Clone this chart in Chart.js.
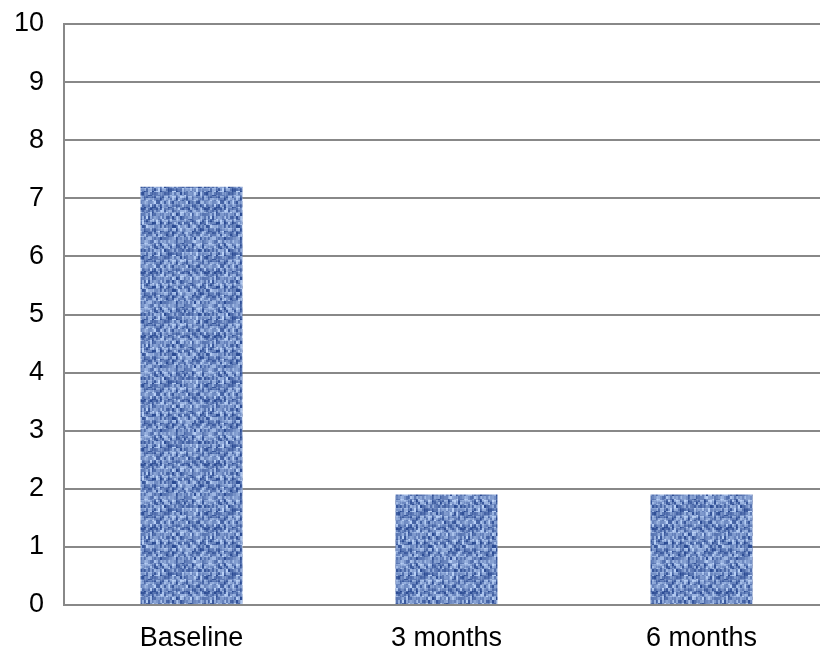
<!DOCTYPE html>
<html>
<head>
<meta charset="utf-8">
<script src="https://cdn.jsdelivr.net/npm/chart.js@4"></script>
<style>
  html, body { margin: 0; padding: 0; background: #fff; overflow: hidden; }
  #wrap { width: 830px; height: 649px; }
</style>
</head>
<body>
<div id="wrap"><canvas id="chart" width="830" height="649"></canvas></div>
<script>
var categories = ['Baseline', '3 months', '6 months'];
var values = [7.2, 1.9, 1.9];
var yTicks = [0, 1, 2, 3, 4, 5, 6, 7, 8, 9, 10];

// woven denim-like fill for the bars
function makeWeave() {
    var size = 64;
    var raw = document.createElement('canvas');
    raw.width = size; raw.height = size;
    var g = raw.getContext('2d');
    var img = g.createImageData(size, size);
    function hash(x, y) {
        var h = (x * 374761393 + y * 668265263 + 1013) | 0;
        h = Math.imul(h ^ (h >>> 13), 1274126177);
        return ((h ^ (h >>> 16)) >>> 0) / 4294967295;
    }
    for (var y = 0; y < size; y++) {
        for (var x = 0; x < size; x++) {
            var cx = Math.floor(x / 4), cy = Math.floor(y / 4);
            var over = ((cx + cy) % 2) === 0;
            var t = over ? 0.64 : 0.4;
            t += (hash(Math.floor(x / 2), Math.floor(y / 3)) - 0.5) * 0.75;
            if (x % 8 === 0) t -= 0.15;
            if (y % 8 === 4) t += 0.12;
            t = Math.max(0, Math.min(1, t));
            var i = (y * size + x) * 4;
            img.data[i] = 40 + t * (185 - 40);
            img.data[i + 1] = 72 + t * (208 - 72);
            img.data[i + 2] = 145 + t * (245 - 145);
            img.data[i + 3] = 255;
        }
    }
    g.putImageData(img, 0, 0);
    // soften the threads a little, wrapping at the tile edges
    var tile = document.createElement('canvas');
    tile.width = size; tile.height = size;
    var tg = tile.getContext('2d');
    tg.filter = 'blur(0.7px)';
    for (var dx = -1; dx <= 1; dx++) {
        for (var dy = -1; dy <= 1; dy++) {
            tg.drawImage(raw, dx * size, dy * size);
        }
    }
    return document.getElementById('chart').getContext('2d').createPattern(tile, 'repeat');
}

var gridColor = '#888888';
var labelFont = { family: 'Liberation Sans, Arial, sans-serif', size: 27 };

var config = {
    type: 'bar',
    data: {
        labels: categories,
        datasets: [{
            data: values,
            backgroundColor: makeWeave(),
            borderWidth: 0,
            barPercentage: 0.4,
            categoryPercentage: 1.0
        }]
    },
    options: {
        responsive: false,
        animation: false,
        layout: { padding: { top: 24, left: 0, right: 1, bottom: 0 } },
        plugins: {
            legend: { display: false },
            tooltip: { enabled: false }
        },
        scales: {
            x: {
                grid: { display: false, drawTicks: false },
                border: { display: true, color: gridColor, width: 2 },
                ticks: { color: '#000', padding: 17, font: labelFont },
                afterFit: function (axis) { axis.height = 44; }
            },
            y: {
                min: 0,
                max: 10,
                afterBuildTicks: function (axis) {
                    axis.ticks = yTicks.map(function (v) { return { value: v }; });
                },
                grid: { color: gridColor, lineWidth: 2, drawTicks: false },
                border: { display: true, color: gridColor, width: 2 },
                ticks: { color: '#000', padding: 20, font: labelFont },
                afterFit: function (axis) {
                    axis.width = 64;
                    axis.paddingTop = 0;
                    axis.paddingBottom = 0;
                }
            }
        }
    }
};

var ctx = document.getElementById('chart').getContext('2d');
var chart = new Chart(ctx, config);
</script>
</body>
</html>
